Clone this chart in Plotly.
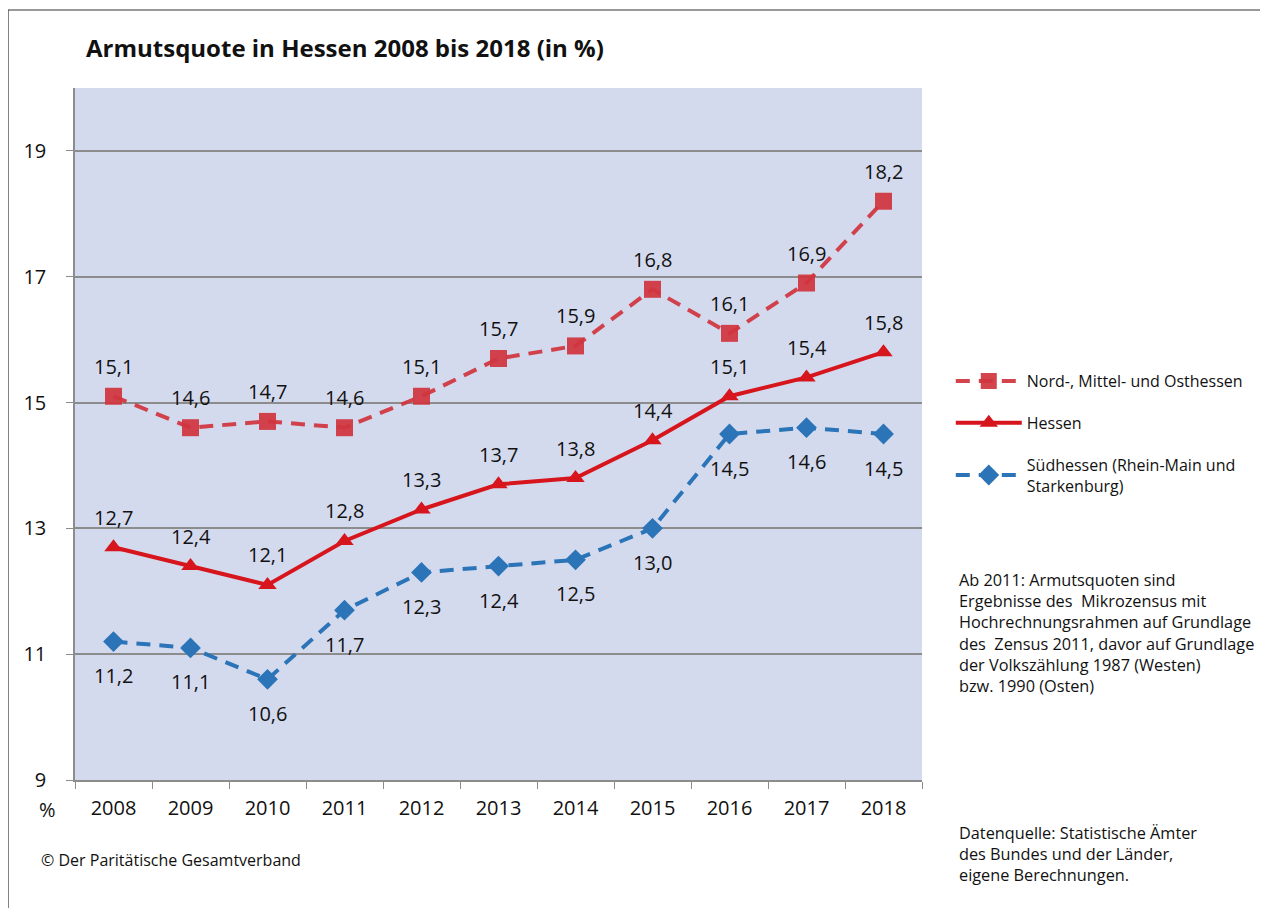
import plotly.graph_objects as go

years = ["2008", "2009", "2010", "2011", "2012", "2013", "2014", "2015", "2016", "2017", "2018"]
nord_mittel_ost = [15.1, 14.6, 14.7, 14.6, 15.1, 15.7, 15.9, 16.8, 16.1, 16.9, 18.2]
hessen = [12.7, 12.4, 12.1, 12.8, 13.3, 13.7, 13.8, 14.4, 15.1, 15.4, 15.8]
suedhessen = [11.2, 11.1, 10.6, 11.7, 12.3, 12.4, 12.5, 13.0, 14.5, 14.6, 14.5]

FONT = "Open Sans"
RED_LIGHT = "rgba(208,52,62,0.92)"
RED = "#D7151C"
BLUE = "#2B74B8"

fig = go.Figure()

fig.add_trace(go.Scatter(
    x=years, y=nord_mittel_ost, name="Nord-, Mittel- und Osthessen",
    legendgroup="a", mode="lines+markers",
    line=dict(color=RED_LIGHT, width=4, dash="14px,9px"),
    marker=dict(symbol="square", size=17, color=RED_LIGHT),
))
fig.add_trace(go.Scatter(
    x=years, y=hessen, name="Hessen",
    legendgroup="b", mode="lines+markers",
    line=dict(color=RED, width=4),
    marker=dict(symbol="triangle-up", size=16, color=RED),
))
fig.add_trace(go.Scatter(
    x=years, y=suedhessen, name="Südhessen (Rhein-Main und<br>Starkenburg)",
    legendgroup="c", mode="lines+markers",
    line=dict(color=BLUE, width=4, dash="14px,9px"),
    marker=dict(symbol="diamond", size=16, color=BLUE),
))

# data labels: above for the two upper series, below for Südhessen
# (x given as category index, numeric-looking year strings would be read as indices)
for values, shift in [(nord_mittel_ost, 30), (hessen, 30), (suedhessen, -34)]:
    for i, v in enumerate(values):
        fig.add_annotation(x=i, y=v, xref="x", yref="y", text=f"{v:.1f}".replace(".", ","),
                           showarrow=False, yshift=shift,
                           font=dict(size=20, color="#111"))

# frame around the whole graphic
fig.add_shape(type="rect", xref="paper", yref="paper",
              x0=-0.0791, x1=1.5, y0=-0.3, y1=1.1127,
              line=dict(color="#333", width=1.2), layer="below")

fig.add_annotation(text="Armutsquote in Hessen 2008 bis 2018 (in %)",
                   xref="paper", yref="paper", x=0.0105, y=1.058,
                   xanchor="left", yanchor="middle", showarrow=False,
                   font=dict(size=24, color="#111", family=FONT, weight="bold"))
fig.add_annotation(text="%", xref="paper", yref="paper", x=-0.033, y=-0.043,
                   xanchor="center", yanchor="middle", showarrow=False,
                   font=dict(size=20, color="#111"))
fig.add_annotation(text="© Der Paritätische Gesamtverband",
                   xref="paper", yref="paper", x=-0.0425, y=-0.1156,
                   xanchor="left", yanchor="middle", showarrow=False,
                   font=dict(size=16, color="#111"))
fig.add_annotation(
    text=("Ab 2011: Armutsquoten sind<br>Ergebnisse des  Mikrozensus mit<br>"
          "Hochrechnungsrahmen auf Grundlage<br>des  Zensus 2011, davor auf Grundlage<br>"
          "der Volkszählung 1987 (Westen)<br>bzw. 1990 (Osten)"),
    xref="paper", yref="paper", x=1.041, y=0.308, xanchor="left", yanchor="top",
    align="left", showarrow=False, font=dict(size=16.3, color="#111"))
fig.add_annotation(
    text="Datenquelle: Statistische Ämter<br>des Bundes und der Länder,<br>eigene Berechnungen.",
    xref="paper", yref="paper", x=1.041, y=-0.058, xanchor="left", yanchor="top",
    align="left", showarrow=False, font=dict(size=16.3, color="#111"))

fig.update_layout(
    width=1268, height=908,
    margin=dict(l=67, r=354, t=80, b=136),
    paper_bgcolor="white", plot_bgcolor="#D4DAEE",
    font=dict(family=FONT, size=20, color="#111"),
    showlegend=True,
    legend=dict(x=1.034, y=0.601, xanchor="left", yanchor="top",
                font=dict(size=16, color="#111"), tracegroupgap=18,
                bgcolor="rgba(0,0,0,0)", itemwidth=66),
)
fig.update_xaxes(
    type="category", range=[-0.5, 10.5],
    showline=True, linecolor="#8C8C8C", linewidth=1.5,
    ticks="outside", tickson="boundaries", ticklen=7, tickcolor="#8C8C8C",
    showgrid=False, tickfont=dict(size=20), ticklabelstandoff=9,
)
fig.update_yaxes(
    range=[9, 20], tickvals=[9, 11, 13, 15, 17, 19],
    showline=True, linecolor="#8C8C8C", linewidth=1.5,
    ticks="outside", ticklen=7, tickcolor="#8C8C8C",
    showgrid=True, gridcolor="#8C8C8C", gridwidth=1.5,
    zeroline=False, tickfont=dict(size=20), ticklabelstandoff=16,
)

fig.write_html("out.html")
